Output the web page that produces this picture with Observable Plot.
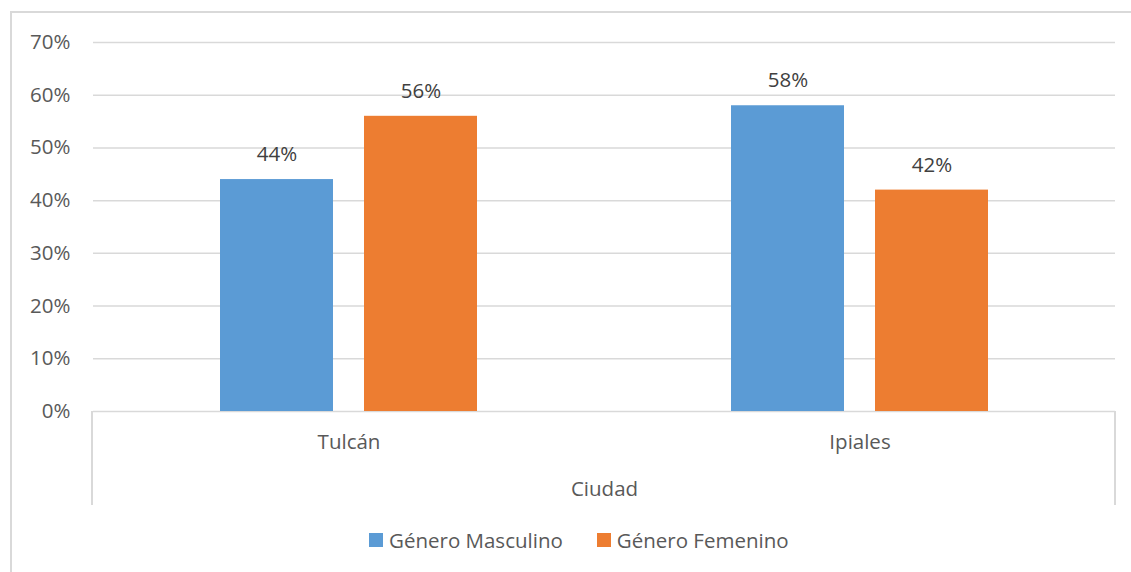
<!DOCTYPE html>
<html>
<head>
<meta charset="utf-8">
<script src="https://cdn.jsdelivr.net/npm/d3@7"></script>
<script src="https://cdn.jsdelivr.net/npm/@observablehq/plot@0.6"></script>
<style>
  html, body { margin: 0; padding: 0; background: #fff; overflow: hidden; width: 1131px; height: 572px; }
  #wrap { position: relative; width: 1131px; height: 572px; font-family: "Open Sans", sans-serif; }
  #border { position: absolute; left: 10px; top: 11px; width: 1200px; height: 700px; border: 2px solid #d9d9d9; box-sizing: border-box; }
  #chart { position: absolute; left: 0; top: 0; }
  #catbox { position: absolute; left: 91px; top: 411px; width: 1025px; height: 94px; border-left: 2px solid #d9d9d9; border-right: 2px solid #d9d9d9; box-sizing: border-box; }
  #legend { position: absolute; left: 369px; top: 526px; display: flex; align-items: center; font-size: 20.5px; color: #595959; }
  .item { display: flex; align-items: center; margin-right: 34px; }
  .sw { width: 14px; height: 14px; margin-right: 6px; }
</style>
</head>
<body>
<div id="wrap">
  <div id="border"></div>
  <div id="catbox"></div>
  <div id="chart"></div>
  <div id="legend"></div>
</div>
<script>
const ciudades = ["Tulcán", "Ipiales"];
const series = ["Género Masculino", "Género Femenino"];
const masculino = [0.44, 0.58];
const femenino = [0.56, 0.42];
const yTicks = [0, 0.1, 0.2, 0.3, 0.4, 0.5, 0.6, 0.7];
const colors = ["#5B9BD5", "#ED7D31"];
const axisTitle = "Ciudad";

const data = [];
ciudades.forEach((c, i) => {
  data.push({ciudad: c, genero: series[0], valor: masculino[i]});
  data.push({ciudad: c, genero: series[1], valor: femenino[i]});
});

const fmt = d3.format(".0%");
const textColor = "#595959";
const font = "'Open Sans', sans-serif";
const fs = 20.5;

const plot = Plot.plot({
  width: 1131,
  height: 515,
  marginLeft: 92,
  marginRight: 16,
  marginTop: 42,
  marginBottom: 104,
  style: {fontFamily: font, fontSize: fs + "px", color: textColor, background: "transparent"},
  fx: {domain: ciudades, padding: 0, axis: null},
  x: {domain: series, paddingInner: 0.2138, paddingOuter: 0.8707, axis: null},
  y: {domain: [0, 0.7], axis: null},
  color: {domain: series, range: colors},
  marks: [
    Plot.gridY(yTicks, {stroke: "#d9d9d9", strokeOpacity: 1, strokeWidth: 1.5}),
    Plot.axisY(yTicks, {tickFormat: fmt, tickSize: 0, tickPadding: 23, fill: textColor, fontSize: fs, label: null}),
    Plot.axisFx({anchor: "bottom", tickSize: 0, tickPadding: 23, fontSize: fs, fill: textColor, label: axisTitle, labelAnchor: "center", labelOffset: 84}),
    Plot.barY(data, {fx: "ciudad", x: "genero", y: "valor", fill: "genero"}),
    Plot.text(data, {fx: "ciudad", x: "genero", y: "valor", text: d => fmt(d.valor), dy: -25, fill: "#404040", fontSize: fs})
  ]
});
document.getElementById("chart").appendChild(plot);

const legend = document.getElementById("legend");
series.forEach((s, i) => {
  const item = document.createElement("div");
  item.className = "item";
  const sw = document.createElement("div");
  sw.className = "sw";
  sw.style.background = colors[i];
  const t = document.createElement("span");
  t.textContent = s;
  item.appendChild(sw);
  item.appendChild(t);
  legend.appendChild(item);
});
</script>
</body>
</html>
